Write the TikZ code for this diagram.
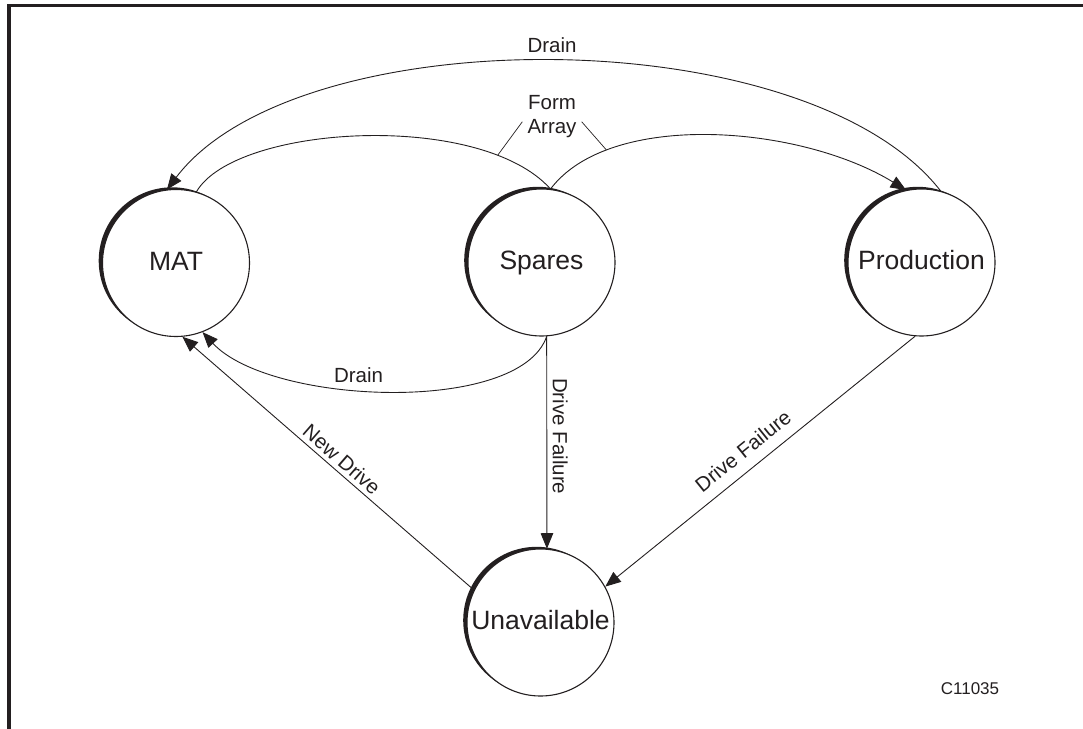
\documentclass[tikz,border=0pt]{standalone}
\usepackage{fontspec}
\setmainfont{Liberation Sans}
\usetikzlibrary{arrows.meta,shadows}
\definecolor{ink}{RGB}{35,31,32}
\begin{document}
\begin{tikzpicture}[x=1pt,y=-1pt,
  state/.style={circle, draw=ink, line width=1.1pt, fill=white,
    minimum size=147pt, inner sep=0pt, text height=19pt, text depth=5pt,
    font=\fontsize{26.5}{30}\selectfont, text=ink,
    drop shadow={shadow xshift=-3.8pt, shadow yshift=2.2pt, fill=ink, opacity=1}},
  conn/.style={draw=ink, line width=0.9pt},
  arr/.style={conn, -{Triangle[length=15.5pt,width=12.5pt]}},
  lbl/.style={font=\fontsize{20.5}{24}\selectfont, text=ink, inner sep=0pt},
]
\useasboundingbox (0,0) rectangle (1083,728);
\clip (0,0) rectangle (1083,728);

% outer frame
\draw[ink, line width=3.3pt] (9,5.3) rectangle (1120,760);

% states
\node[state] (mat)    at (176,263)     {MAT};
\node[state] (spares) at (541.5,262.5) {Spares};
\node[state] (prod)   at (921.5,262.5) {Production};
\node[state] (unav)   at (540.5,622.5) {Unavailable};

% drain from production back to MAT
\draw[arr] (prod.75) .. controls (806,18) and (297,18) .. (mat.97)
  node[lbl, pos=0.5, anchor=south, inner ysep=8pt] (drtop) {Drain};

% form array: MAT and spares into production
\draw[conn] (mat.74) .. controls (235,125) and (480,110) .. (spares.83)
  coordinate[pos=0.82] (fl);
\draw[arr] (spares.83) .. controls (610,110) and (800,125) .. (prod.102)
  coordinate[pos=0.22] (fr);
\node[lbl, anchor=base] (form) at (552,109) {Form};
\node[lbl, anchor=base, inner xsep=5pt] (array) at (552,133) {Array};
\draw[conn, line width=0.7pt] (array.168) -- (fl);
\draw[conn, line width=0.7pt] (array.12) -- (fr);

% drain from spares to MAT
\draw[arr] (spares.274) .. controls (520,415) and (270,405) .. (mat.291)
  node[lbl, pos=0.57, anchor=south, inner ysep=6.5pt] (drlow) {Drain};

% new drive
\draw[arr] (unav.154) -- (mat.275)
  node[lbl, pos=0.48, rotate=-41, anchor=south, inner ysep=4pt] (newdr) {New Drive};

% drive failures
\draw[arr] (spares.274) -- (unav.85)
  node[lbl, pos=0.47, rotate=-90, anchor=south, inner ysep=5.5pt] (dfa) {Drive Failure};
\draw[arr] (prod.265) -- (unav.29)
  node[lbl, pos=0.517, rotate=38.9, anchor=south, inner ysep=11pt] (dfb) {Drive Failure};

% figure code
\node[font=\fontsize{17}{20}\selectfont, text=ink, inner sep=0pt] (code) at (970,689) {C11035};
\end{tikzpicture}
\end{document}
